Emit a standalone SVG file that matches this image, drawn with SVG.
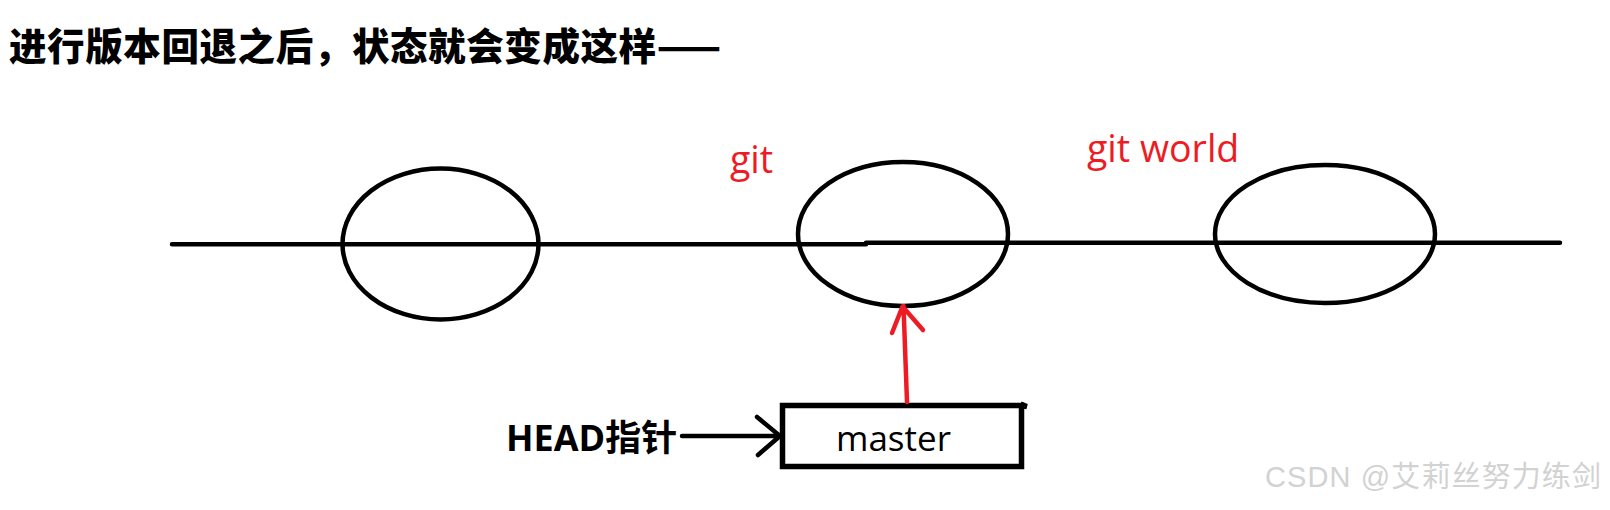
<svg xmlns="http://www.w3.org/2000/svg" width="1610" height="510" viewBox="0 0 1610 510">
<style>
.blk{fill:none;stroke:#000;stroke-width:4.5;stroke-linecap:round;stroke-linejoin:round}
.red{fill:none;stroke:#ed1c24;stroke-width:4.5;stroke-linecap:round;stroke-linejoin:round}
.lbl{font-family:"Open Sans","Noto Sans CJK SC",sans-serif;fill:#ed1c24;font-size:37.5px;font-weight:500}
.txt{font-family:"Open Sans","Noto Sans CJK SC",sans-serif;fill:#000}
</style>
<rect width="1610" height="510" fill="#fff"/>
<text x="9" y="59.5" font-family="'Noto Sans CJK SC',sans-serif" font-weight="900" font-size="37.5" letter-spacing="0.6" fill="#000">进行版本回退之后，状态就会变成这样——</text>
<g id="timeline">
<path class="blk" d="M172 244.3 L866 244.3 M866 242.8 L1560 242.8"/>
</g>
<g id="commit1">
<ellipse class="blk" cx="440.5" cy="244" rx="98" ry="75.5"/>
</g>
<g id="commit2">
<ellipse class="blk" cx="903" cy="234" rx="105" ry="72"/>
<text class="lbl" x="730" y="173">git</text>
</g>
<g id="commit3">
<ellipse class="blk" cx="1325" cy="234" rx="110" ry="69"/>
<text class="lbl" x="1087" y="161.5">git world</text>
</g>
<g id="master">
<rect x="782.5" y="405.5" width="239" height="61" fill="none" stroke="#000" stroke-width="5.5"/>
<path d="M1021 403 L1026 405 L1025 409" fill="none" stroke="#000" stroke-width="3"/>
<text class="txt" x="836" y="451" font-size="35" font-weight="500">master</text>
</g>
<g id="head">
<text class="txt" x="506" y="451" font-size="36" font-weight="bold">HEAD指针</text>
</g>
<g id="connectors">
<path class="red" d="M907 402 L903.5 306 M892 333 L902.5 306.5 L923 330"/>
<path class="blk" d="M682 436 L780 436 M757 417 L780 436 L758 455"/>
</g>
<text x="1265" y="487" font-family="'Liberation Sans','Noto Sans CJK SC',sans-serif" font-size="29" fill="#d2d2d2" textLength="336" lengthAdjust="spacing">CSDN @艾莉丝努力练剑</text>
</svg>
